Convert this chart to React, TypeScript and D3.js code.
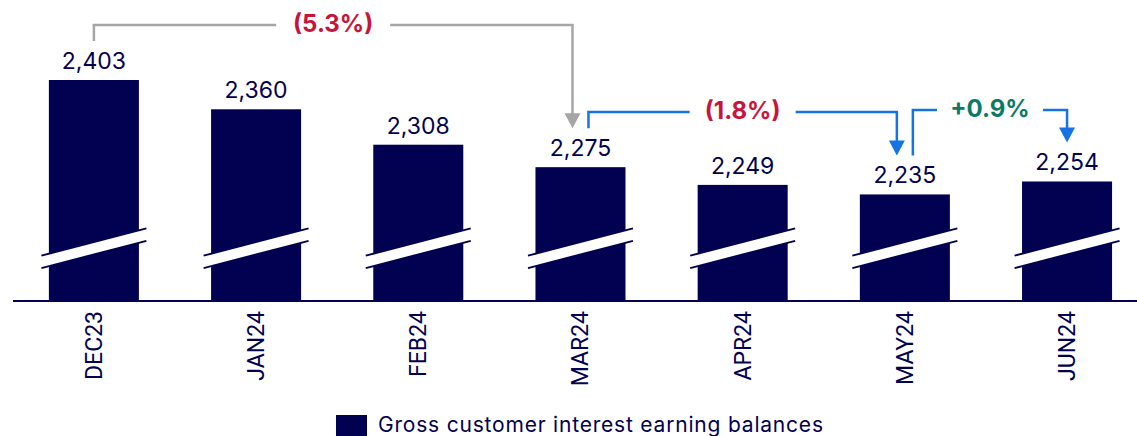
import React from "react";
import * as d3 from "d3";

const months = ["DEC23", "JAN24", "FEB24", "MAR24", "APR24", "MAY24", "JUN24"];
const balances = [2403, 2360, 2308, 2275, 2249, 2235, 2254];
const legendLabel = "Gross customer interest earning balances";

// change brackets: from month index, to month index, text, kind
const changeFrom = [0, 3, 5];
const changeTo = [3, 5, 6];
const changeText = ["(5.3%)", "(1.8%)", "+0.9%"];
const changeKind = ["grey", "blue", "blue"];
const changeTextColor = ["#c8143c", "#c8143c", "#0b7a64"];

const W = 1137;
const H = 436;
const NAVY = "#020050";
const BLUE = "#1673e4";
const GREY = "#a6a6a6";

export default function App() {
  const x = d3
    .scaleBand()
    .domain(months)
    .range([13, W])
    .paddingInner(0.445)
    .paddingOuter(0.1875)
    .align(0.59);

  const y = d3.scaleLinear().domain([2080, d3.max(balances)]).range([300, 80]);
  const baseY = y(2080);
  const bw = x.bandwidth();
  const cx = (i) => x(months[i]) + bw / 2;

  // top of the arrow stub above a value label
  const anchorY = (i) => y(balances[i]) - 39;

  const brackets = changeFrom.map((f, k) => {
    const t = changeTo[k];
    const grey = changeKind[k] === "grey";
    const x1 = grey ? cx(f) : cx(f) + 8;
    const x2 = t === months.length - 1 ? cx(t) : cx(t) - 8;
    const lineY = k === 0 ? 25 : k === 1 ? 112 : 110;
    const mid = (x1 + x2) / 2;
    const half = k === 0 ? 57 : 53;
    const startY = anchorY(f);
    const tipY = anchorY(t);
    return { k, x1, x2, lineY, mid, half, startY, tipY, color: grey ? GREY : BLUE };
  });

  const brk = (i) => {
    const c = cx(i);
    const l = c - 52.5;
    const r = c + 52.5;
    const slope = -0.26;
    const yt = (xx) => 242 + slope * (xx - c);
    return { l, r, tl: yt(l), tr: yt(r), gap: 12.5 };
  };

  return (
    <svg
      width={W}
      height={H}
      style={{ position: "absolute", left: 0, top: 0, background: "#fff" }}
      fontFamily="Inter, Roboto, sans-serif"
    >
      {months.map((m, i) => (
        <rect
          key={m}
          x={x(m)}
          y={y(balances[i])}
          width={bw}
          height={baseY - y(balances[i])}
          fill={NAVY}
        />
      ))}

      {months.map((m, i) => {
        const b = brk(i);
        return (
          <g key={"b" + m}>
            <polygon
              points={`${b.l},${b.tl} ${b.r},${b.tr} ${b.r},${b.tr + b.gap} ${b.l},${b.tl + b.gap}`}
              fill="#fff"
            />
            <line x1={b.l} y1={b.tl} x2={b.r} y2={b.tr} stroke={NAVY} strokeWidth={2} />
            <line x1={b.l} y1={b.tl + b.gap} x2={b.r} y2={b.tr + b.gap} stroke={NAVY} strokeWidth={2} />
          </g>
        );
      })}

      <line x1={13} x2={W} y1={baseY + 1} y2={baseY + 1} stroke={NAVY} strokeWidth={2} />

      {months.map((m, i) => (
        <text
          key={"v" + m}
          x={cx(i)}
          y={y(balances[i]) - 11}
          textAnchor="middle"
          fontSize={23}
          fill={NAVY}
        >
          {d3.format(",")(balances[i])}
        </text>
      ))}

      {months.map((m, i) => (
        <text
          key={"c" + m}
          transform={`translate(${cx(i) + 8},311) rotate(-90)`}
          textAnchor="end"
          fontFamily="Roboto, sans-serif"
          fontSize={23}
          fill={NAVY}
        >
          {m}
        </text>
      ))}

      {brackets.map((b) => (
        <g key={"a" + b.k}>
          <path
            d={`M${b.x1},${b.startY} V${b.lineY} H${b.mid - b.half} M${b.mid + b.half},${b.lineY} H${b.x2} V${b.tipY - 14}`}
            fill="none"
            stroke={b.color}
            strokeWidth={2.5}
          />
          <polygon
            points={`${b.x2 - 8},${b.tipY - 15} ${b.x2 + 8},${b.tipY - 15} ${b.x2},${b.tipY}`}
            fill={b.color}
          />
          <text
            x={b.mid}
            y={b.lineY - 2}
            textAnchor="middle"
            dominantBaseline="central"
            fontSize={24}
            fontWeight={700}
            fill={changeTextColor[b.k]}
          >
            {changeText[b.k]}
          </text>
        </g>
      ))}

      <rect x={336} y={415} width={31} height={22} fill={NAVY} />
      <text x={378} y={432} fontSize={21} letterSpacing={0.8} fill={NAVY}>
        {legendLabel}
      </text>
    </svg>
  );
}
